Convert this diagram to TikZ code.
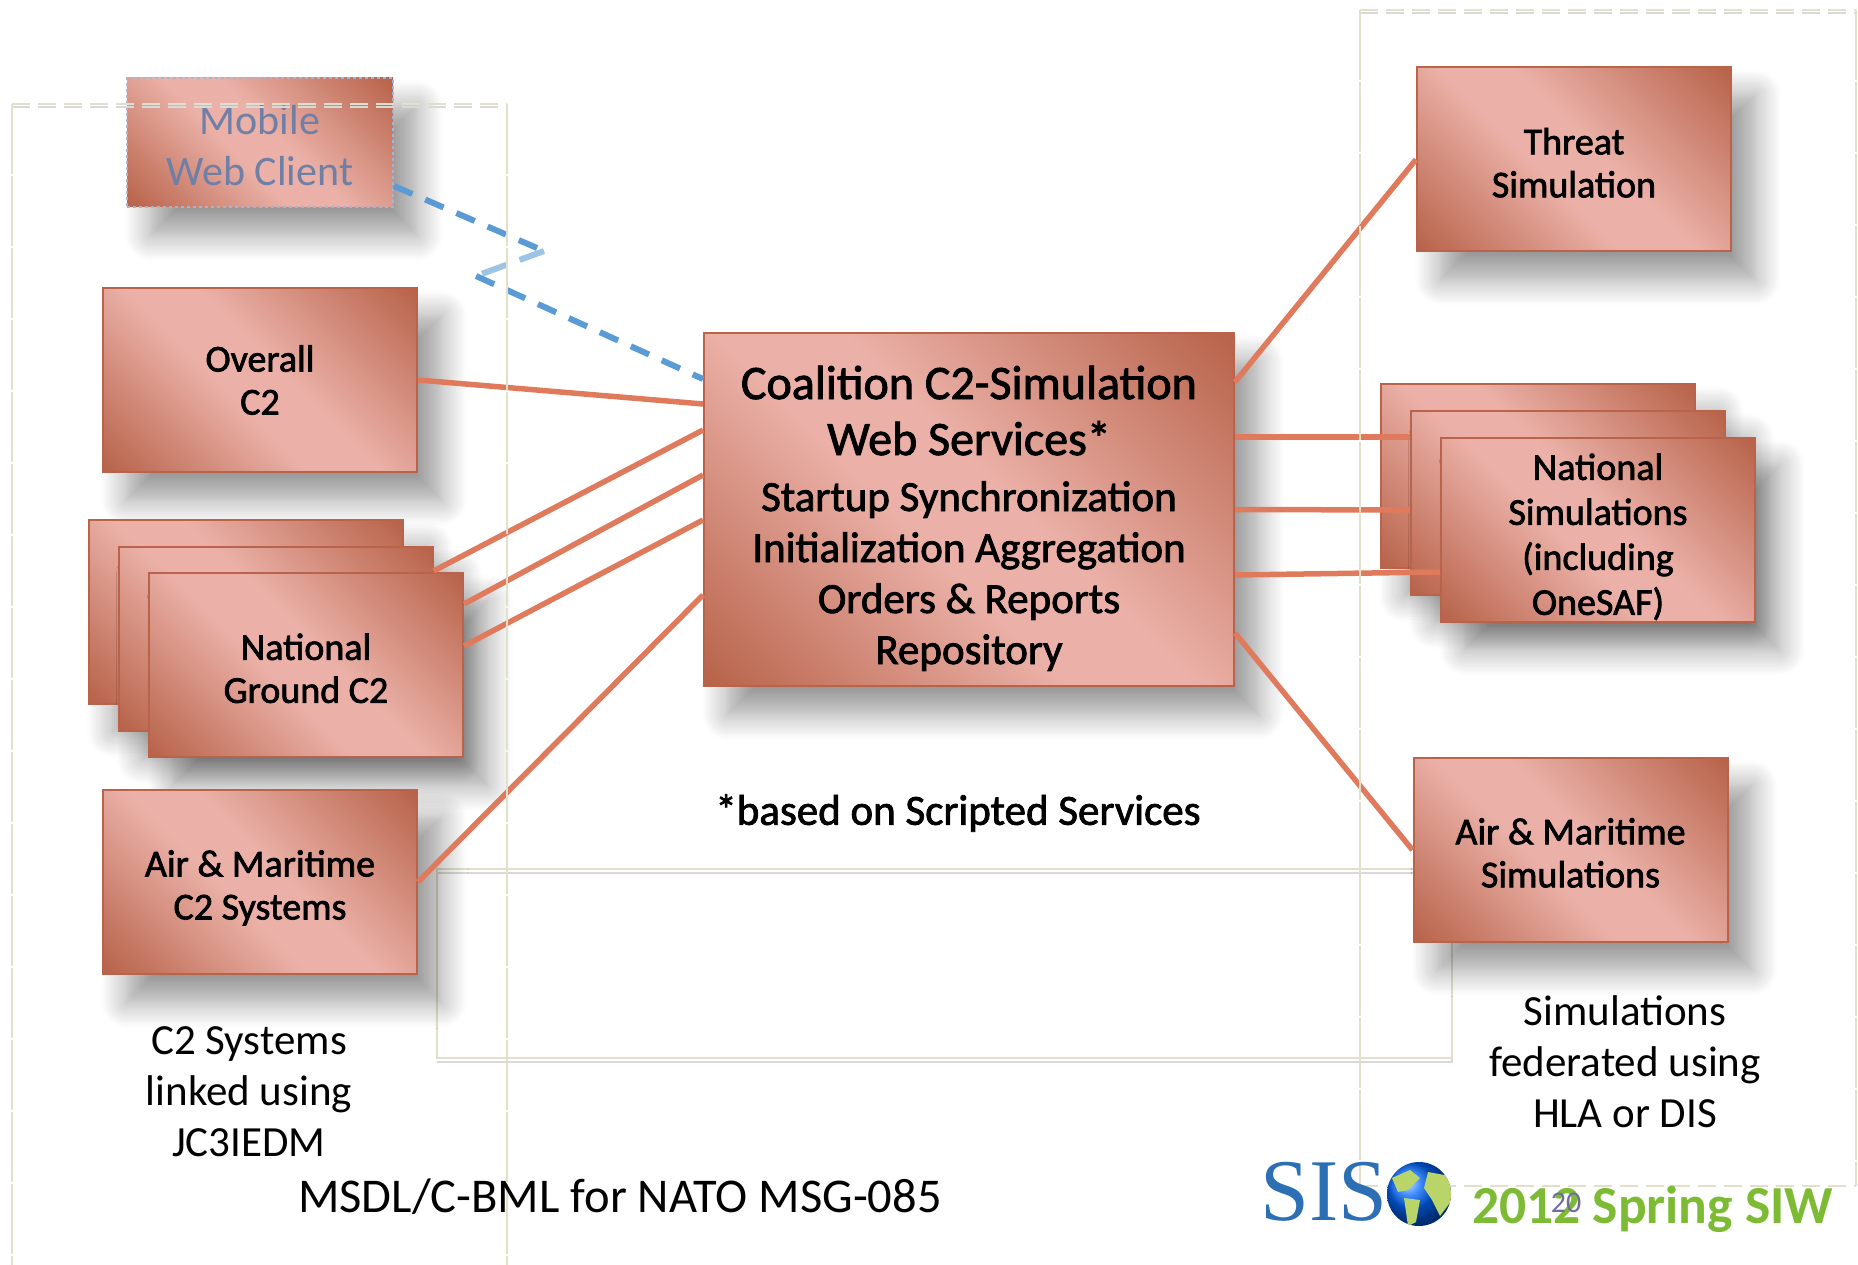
\documentclass[tikz,border=0pt]{standalone}
\usepackage{fontspec}
\setmainfont{Carlito}
\newfontfamily\boxfont[FakeBold=1.8]{Carlito}
\newfontfamily\logofont{Liberation Serif}
\usetikzlibrary{positioning}
\usetikzlibrary{shadows.blur}
\definecolor{boxdark}{HTML}{B8634A}
\definecolor{boxlight}{HTML}{EBB1A8}
\definecolor{linkred}{HTML}{DF7A5C}
\definecolor{linkblue}{HTML}{5B9BD5}
\definecolor{linkpale}{HTML}{9DC3E6}
\definecolor{framepale}{HTML}{E2DFCB}
\definecolor{mobileblue}{HTML}{A9B3CE}
\definecolor{mobiletext}{HTML}{6F7FA6}
\definecolor{landgreen}{HTML}{B9D56A}
\definecolor{sisblue}{HTML}{2C6FB5}
\definecolor{sisgreen}{HTML}{7DBB35}
\definecolor{pagenum}{HTML}{6D6D9A}
\pgfdeclarehorizontalshading{boxshade}{100bp}{
  color(0bp)=(boxdark); color(15bp)=(boxdark); color(44bp)=(boxlight); color(54bp)=(boxlight);
  color(85bp)=(boxdark); color(100bp)=(boxdark)}
\newcommand{\bigline}[1]{{\fontsize{48}{56}\selectfont #1}}
\newcommand{\dropline}[1]{\rule{0pt}{#1}}
\tikzset{
    state/.style={
           rectangle,
           draw=boxdark, line width=2pt,
           shading=boxshade, shading angle=45,
           blur shadow={shadow xshift=24pt, shadow yshift=-28pt,
             shadow blur radius=26pt, shadow blur steps=12, shadow opacity=40},
           inner sep=0pt,
           align=center,
           font=\boxfont\fontsize{38}{43}\selectfont,
           minimum width=314pt,
           minimum height=184pt,
           },
    link/.style={draw=linkred, line width=5.5pt},
    wirelink/.style={draw=linkblue, line width=6pt, dash pattern=on 20pt off 14pt},
    frameline/.style={draw=framepale, line width=2pt},
    frameshade/.style={draw=black!15, line width=1.5pt},
    note/.style={align=center, font=\fontsize{43}{51}\selectfont},
}
\begin{document}
\begin{tikzpicture}[x=1pt,y=-1pt]
 \useasboundingbox (0,0) rectangle (1858,1265);

 % inner frame, behind the boxes
 \draw[frameshade] (437,873) -- (1452,873) -- (1452,1062) -- (437,1062);
 \draw[frameline] (437,869) rectangle (1452,1058);

 \node[state, minimum width=530pt, minimum height=353pt,
  font=\boxfont\fontsize{43}{51}\selectfont] (Coalition) at (969,509.5)
 {\dropline{51pt}\bigline{Coalition C2-Simulation}\\[5pt]\bigline{Web Services*}\\[5pt]
  Startup Synchronization\\Initialization Aggregation\\Orders \& Reports\\Repository};

 \node[state,
  left of=Coalition,
  node distance=709pt,
  yshift=129.5pt] (Overall)
 {Overall\\C2};

 \node[state,
  above of=Overall,
  node distance=237.5pt,
  minimum width=266pt,
  minimum height=129pt,
  draw=mobileblue,
  dashed,
  text=mobiletext,
  font=\fontsize{42}{51}\selectfont] (Mobile)
 {\dropline{36pt}Mobile\\Web Client};

 % stacked boxes, back one first
 \node[state,
  below of=Overall,
  node distance=231.5pt,
  xshift=-14pt] (GroundBack) {};
 \node[state,
  right of=GroundBack,
  node distance=29.5pt,
  yshift=-27pt] (GroundMid) {};
 \node[state,
  right of=GroundMid,
  node distance=30.5pt,
  yshift=-26.5pt] (GroundFront)
 {\dropline{33pt}National\\Ground C2};

 \node[state,
  below of=Overall,
  node distance=502pt] (AirC2)
 {\dropline{38pt}Air \& Maritime\\C2 Systems};

 \node[state,
  right of=Coalition,
  node distance=605pt,
  yshift=350pt] (Threat)
 {\dropline{33pt}Threat\\Simulation};

 \node[state,
  right of=Coalition,
  node distance=568.5pt,
  yshift=33.5pt] (SimBack) {};
 \node[state,
  right of=SimBack,
  node distance=30pt,
  yshift=-27pt] (SimMid) {};
 \node[state,
  right of=SimMid,
  node distance=30.5pt,
  yshift=-26.5pt,
  font=\boxfont\fontsize{38}{45}\selectfont] (SimFront)
 {\dropline{41pt}National\\Simulations\\(including\\OneSAF)};

 \node[state,
  right of=Coalition,
  node distance=601.5pt,
  yshift=-340.5pt] (AirSim)
 {\dropline{32pt}Air \& Maritime\\Simulations};

 % draw the links
 \draw[link] (Overall.east) -- ([yshift=105.5pt]Coalition.west);
 \draw[link] ([yshift=67.5pt]GroundMid.east) -- ([yshift=79.5pt]Coalition.west);
 \draw[link] ([yshift=61pt]GroundFront.east) -- ([yshift=34.5pt]Coalition.west);
 \draw[link] ([yshift=19pt]GroundFront.east) -- ([yshift=-10.5pt]Coalition.west);
 \draw[link] (AirC2.east) -- ([yshift=-85.5pt]Coalition.west);
 \draw[link] ([yshift=127.5pt]Coalition.east) -- (Threat.west);
 \draw[link] ([yshift=72.5pt]Coalition.east) -- ([yshift=66pt]SimMid.west);
 \draw[link] (Coalition.east) -- ([yshift=-7pt]SimMid.west);
 \draw[link] ([yshift=-65.5pt]Coalition.east) -- ([yshift=-42.5pt]SimFront.west);
 \draw[link] ([yshift=-123.5pt]Coalition.east) -- (AirSim.west);

 % wireless link with its kink
 \coordinate (kinkA) at (544,251);
 \coordinate (kinkB) at (476,276);
 \draw[wirelink] ([yshift=-43.5pt]Mobile.east) -- (kinkA);
 \draw[draw=linkpale, line width=6pt, dash pattern=on 26pt off 14pt] (kinkA) -- (kinkB);
 \draw[wirelink] (kinkB) -- ([yshift=130.5pt]Coalition.west);

 % outer dashed frames
 \draw[frameshade, dash pattern=on 18pt off 8pt] (12,107) -- (507,107);
 \draw[frameline, dash pattern=on 18pt off 8pt] (12,104) -- (507,104);
 \draw[frameline, dash pattern=on 70pt off 2pt] (12,104) -- (12,1265);
 \draw[frameline, dash pattern=on 70pt off 2pt] (507,104) -- (507,1265);
 \draw[frameshade, dash pattern=on 18pt off 8pt] (1360,13) -- (1856,13);
 \draw[frameline, dash pattern=on 18pt off 8pt] (1360,10) -- (1856,10);
 \draw[frameline, dash pattern=on 70pt off 2pt] (1360,10) -- (1360,1186);
 \draw[frameline, dash pattern=on 70pt off 2pt] (1856,10) -- (1856,1186);
 \draw[frameline, dash pattern=on 18pt off 8pt] (1360,1186) -- (1856,1186);

 % texts
 \node[font=\boxfont\fontsize{43}{51}\selectfont] (ScriptNote) at (958,813) {*based on Scripted Services};
 \node[note] (C2Note) at (249,1092) {C2 Systems\\linked using\\JC3IEDM};
 \node[note] (SimNote) at (1625,1062) {Simulations\\federated using\\HLA or DIS};
 \node[font=\fontsize{48.5}{55}\selectfont] (Title) at (620,1197) {MSDL/C-BML for NATO MSG-085};

 % logo
 \node[font=\logofont\fontsize{88}{88}\selectfont, text=sisblue, inner sep=0pt] (SisText) at (1324,1192) {SIS};
 \node[circle, inner sep=0pt, minimum size=64pt,
  ball color=blue!60!cyan] (Globe) at (1419,1194) {};
 \begin{scope}
  \clip (1419,1194) circle (32pt);
  \fill[landgreen] (1392,1178) -- (1410,1170) -- (1420,1178) -- (1408,1190) -- (1398,1192) -- cycle;
  \fill[landgreen] (1404,1198) -- (1420,1200) -- (1416,1222) -- (1408,1226) -- cycle;
  \fill[landgreen] (1428,1172) -- (1450,1176) -- (1452,1200) -- (1440,1216) -- (1432,1200) -- (1424,1188) -- cycle;
 \end{scope}
 \node[font=\bfseries\fontsize{53.5}{60}\selectfont, text=sisgreen, anchor=west, inner sep=0pt] (Spring) at (1472,1209) {2012 Spring SIW};
 \node[font=\fontsize{30}{32}\selectfont, text=pagenum, inner sep=0pt] (PageNum) at (1566,1203) {20};
\end{tikzpicture}
\end{document}
